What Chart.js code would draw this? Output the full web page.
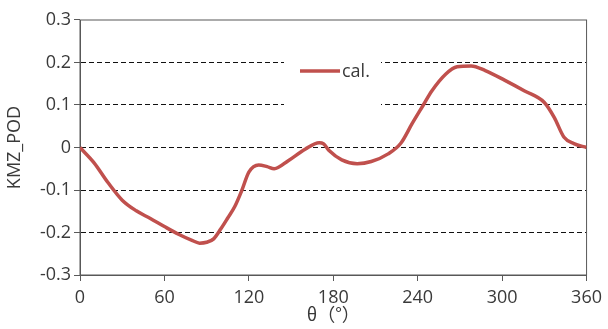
<!DOCTYPE html>
<html>
<head>
<meta charset="UTF-8">
<title>KMZ_POD</title>
<script src="https://cdn.jsdelivr.net/npm/chart.js"></script>
<style>
  html, body { margin: 0; padding: 0; background: #fff; }
</style>
</head>
<body>
<canvas id="podChart" width="608" height="329"></canvas>
<script>
    // 角度 (deg) と値
    const theta = [0, 10, 20, 30, 40, 50, 60, 70, 80, 85, 90, 95, 100, 105, 110, 115, 120, 127,
        133, 138, 148, 160, 170, 173, 177, 186, 197, 207, 219, 228, 236, 244, 250, 260, 268,
        278, 288, 302, 316, 330, 337, 344, 351, 360];
    const calValues = [0, -0.036, -0.083, -0.124, -0.149, -0.167, -0.186, -0.204, -0.219, -0.225,
        -0.223, -0.215, -0.192, -0.166, -0.139, -0.101, -0.058, -0.041, -0.045, -0.050, -0.031,
        -0.004, 0.011, 0.009, -0.007, -0.029, -0.038, -0.033, -0.015, 0.010, 0.056, 0.100,
        0.133, 0.173, 0.190, 0.192, 0.181, 0.158, 0.133, 0.106, 0.071, 0.024, 0.009, 0];
    const seriesName = 'cal.';
    const xTicks = [0, 60, 120, 180, 240, 300, 360];
    const yTickLabels = ['-0.3', '-0.2', '-0.1', '0', '0.1', '0.2', '0.3'];
    const xTitle = 'θ（°）';
    const yTitle = 'KMZ_POD';

    const lineColor = '#C0504D';
    const textColor = '#3a3a3a';
    const font = { family: "'Open Sans', 'Noto Sans CJK SC', sans-serif", size: 18 };

    const points = theta.map((t, i) => ({ x: t, y: calValues[i] }));

    // 枠線と凡例 (プロット内)
    const framePlugin = {
        id: 'frame',
        beforeDatasetsDraw(chart) {
            const { ctx, chartArea: a } = chart;
            ctx.save();
            // 凡例の背景 (グリッドを隠す)
            ctx.fillStyle = '#fff';
            ctx.fillRect(284, 52, 97, 62);
            ctx.strokeStyle = '#595959';
            ctx.lineWidth = 1;
            ctx.strokeRect(a.left, a.top, a.right - a.left, a.bottom - a.top);
            ctx.restore();
        },
        afterDatasetsDraw(chart) {
            const { ctx } = chart;
            ctx.save();
            ctx.strokeStyle = lineColor;
            ctx.lineWidth = 3.5;
            ctx.beginPath();
            ctx.moveTo(300, 71);
            ctx.lineTo(340, 71);
            ctx.stroke();
            ctx.fillStyle = textColor;
            ctx.font = "18px 'Open Sans', sans-serif";
            ctx.textBaseline = 'middle';
            ctx.fillText(seriesName, 342, 72);
            ctx.restore();
        }
    };

    const config = {
        type: 'line',
        data: {
            datasets: [{
                label: seriesName,
                data: points,
                borderColor: lineColor,
                borderWidth: 3.5,
                pointRadius: 0,
                tension: 0.4,
                cubicInterpolationMode: 'monotone',
                fill: false
            }]
        },
        options: {
            responsive: false,
            animation: false,
            layout: { padding: { top: 20, right: 19, left: 0, bottom: 0 } },
            plugins: { legend: { display: false }, tooltip: { enabled: false } },
            scales: {
                x: {
                    type: 'linear',
                    min: 0,
                    max: 360,
                    afterBuildTicks: (scale) => { scale.ticks = xTicks.map(v => ({ value: v })); },
                    afterFit: (scale) => { scale.height = 54; },
                    grid: { drawOnChartArea: false, drawTicks: true, tickLength: 6, tickColor: '#595959' },
                    border: { color: '#595959', width: 1 },
                    ticks: { color: textColor, font: font, padding: 6, maxRotation: 0, autoSkip: false },
                    title: {
                        display: true, text: xTitle, color: textColor,
                        font: { family: "'Noto Sans CJK SC', sans-serif", size: 18 },
                        padding: { top: -4 }
                    }
                },
                y: {
                    min: -0.3,
                    max: 0.3,
                    afterBuildTicks: (scale) => {
                        scale.ticks = yTickLabels.map((s, i) => ({ value: -0.3 + i * 0.1 }));
                    },
                    afterFit: (scale) => { scale.width = 80; },
                    grid: {
                        color: (c) => (c.index === 0 || c.index === yTickLabels.length - 1) ? 'rgba(0,0,0,0)' : '#111',
                        lineWidth: 1,
                        drawTicks: true,
                        tickLength: 6,
                        tickColor: '#595959'
                    },
                    border: { color: '#595959', width: 1, dash: [5, 3] },
                    ticks: {
                        color: textColor,
                        font: font,
                        padding: 3,
                        autoSkip: false,
                        callback: function (value, index) { return yTickLabels[index]; }
                    },
                    title: { display: true, text: yTitle, color: textColor, font: font, padding: { bottom: 0 } }
                }
            }
        },
        plugins: [framePlugin]
    };

    new Chart(document.getElementById('podChart'), config);
</script>
</body>
</html>
